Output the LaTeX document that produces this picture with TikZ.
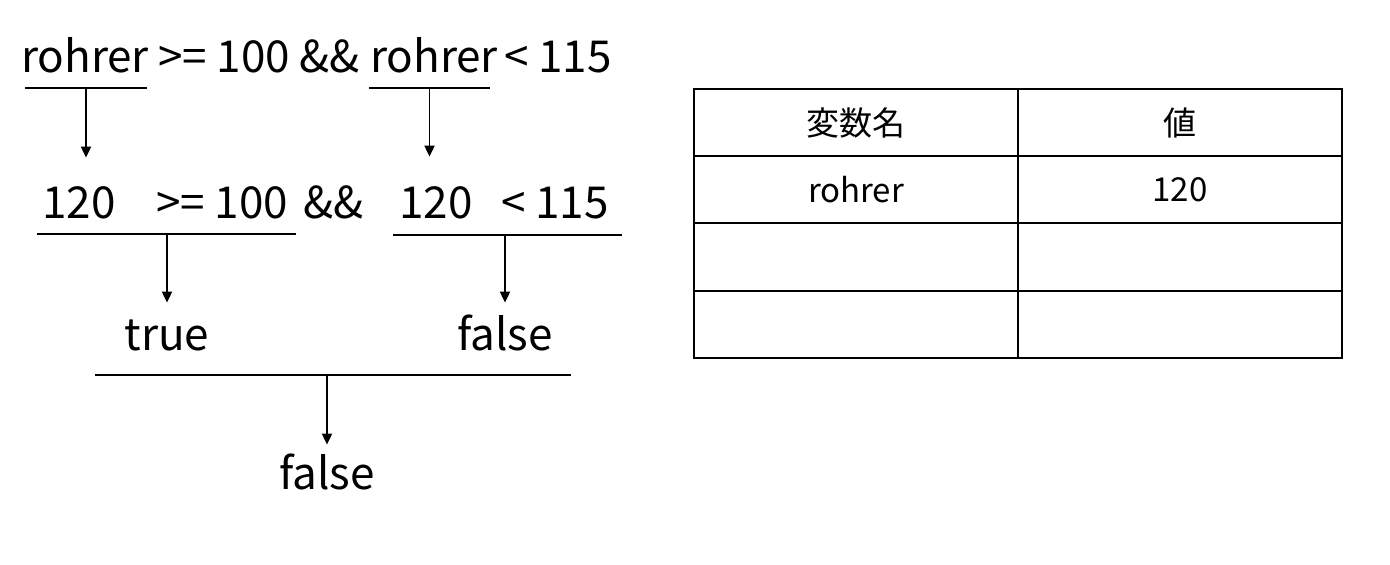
\documentclass[tikz,border=0pt]{standalone}
\usepackage{fontspec}
\setmainfont{Noto Sans CJK JP}
\usetikzlibrary{arrows.meta,positioning}
\newcommand{\exprfont}{\fontsize{22}{26}\selectfont}
\newcommand{\cellfont}{\fontsize{16.5}{20}\selectfont}

\begin{document}
\begin{tikzpicture}[
      x=0.5pt, y=-0.5pt,
      expr/.style={font=\exprfont,inner sep=0pt,text height=16pt,text depth=0pt,anchor=base},
      bar/.style={inner sep=0pt,minimum height=0pt,outer sep=0pt},
      line/.style={line width=0.9pt},
      arrow/.style={-{Triangle[length=5.5pt,width=5pt]},line width=0.9pt},
      cell/.style={draw,line width=1pt,outer sep=0pt,minimum width=162pt,
                   minimum height=33.6pt,font=\cellfont}
    ]
    \useasboundingbox (0,0) rectangle (1390,564);

    % Original expression
    \node[expr] (v1) at (85,72) {rohrer};
    \node[expr] (t1) at (224,72) {>= 100};
    \node[expr] (t2) at (329,72) {\&\&};
    \node[expr] (v2) at (434,72) {rohrer};
    \node[expr] (t3) at (558,72) {< 115};

    % Substituted expression
    \node[expr] (n1) at (79,218) {120};
    \node[expr] (n2) at (222,218) {>= 100};
    \node[expr] (n3) at (333,218) {\&\&};
    \node[expr] (n4) at (436,218) {120};
    \node[expr] (n5) at (555,218) {< 115};

    % Results
    \node[expr] (r1) at (167,350) {true};
    \node[expr] (r2) at (505,350) {false};
    \node[expr] (r3) at (327,489) {false};

    % Underlines
    \node[bar,minimum width=61pt] (b1) at (86,88) {};
    \node[bar,minimum width=60.5pt] (b2) at (429.5,88) {};
    \node[bar,minimum width=129.5pt] (b3) at (166.5,234) {};
    \node[bar,minimum width=114.5pt] (b4) at (507.5,235) {};
    \node[bar,minimum width=238pt] (b5) at (333,375) {};
    \draw[line] (b1.west) -- (b1.east);
    \draw[line] (b2.west) -- (b2.east);
    \draw[line] (b3.west) -- (b3.east);
    \draw[line] (b4.west) -- (b4.east);
    \draw[line] (b5.west) -- (b5.east);

    % Evaluation steps
    \draw[arrow,shorten >=14pt] (b1) -- (b1 |- n1.north);
    \draw[arrow,shorten >=14.5pt] (b2) -- (b2 |- n4.north);
    \draw[arrow,shorten >=7.5pt] (b3 -| r1) -- (r1.north);
    \draw[arrow,shorten >=7.5pt] (b4 -| r2) -- (r2.north);
    \draw[arrow,shorten >=6pt] (b5 -| r3) -- (r3.north);

    % Variable table
    \node[cell] (c11) at (856,122.5) {変数名};
    \node[cell,right=0pt of c11] (c12) {値};
    \node[cell,below=0pt of c11] (c21) {rohrer};
    \node[cell,right=0pt of c21] (c22) {120};
    \node[cell,below=0pt of c21] (c31) {};
    \node[cell,right=0pt of c31] (c32) {};
    \node[cell,below=0pt of c31] (c41) {};
    \node[cell,right=0pt of c41] (c42) {};

  \end{tikzpicture}
\end{document}
